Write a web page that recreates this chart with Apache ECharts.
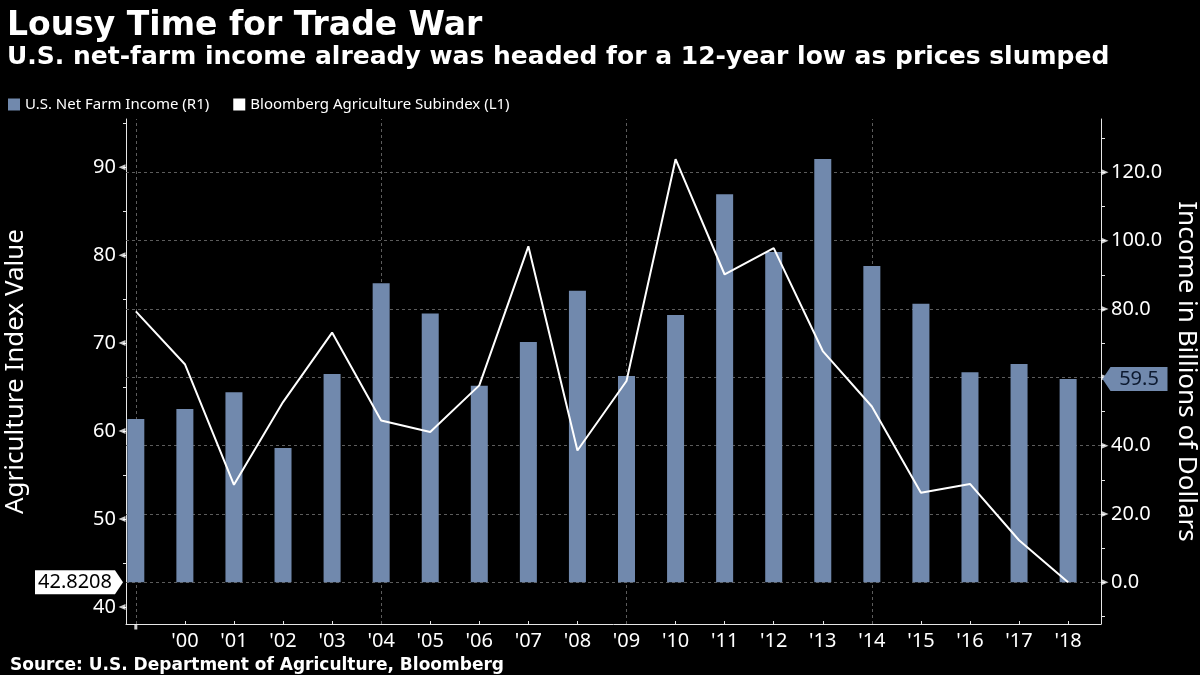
<!DOCTYPE html>
<html>
<head>
<meta charset="utf-8">
<script src="https://cdn.jsdelivr.net/npm/echarts@6/dist/echarts.min.js"></script>
<style>
html,body{margin:0;padding:0;background:#000;}
#chart{width:1200px;height:675px;}
</style>
</head>
<body>
<div id="chart"></div>
<script>
// ---- data ----
const years = [1999,2000,2001,2002,2003,2004,2005,2006,2007,2008,2009,2010,2011,2012,2013,2014,2015,2016,2017,2018];
const farmIncome = [47.8,50.7,55.6,39.3,61.0,87.5,78.7,57.5,70.3,85.3,60.4,78.2,113.6,96.7,123.9,92.6,81.5,61.5,63.9,59.5];
const agIndex = [73.6,67.6,53.9,63.3,71.2,61.2,59.9,65.2,81.0,57.8,65.7,90.9,77.8,80.8,69.1,62.8,53.0,54.0,47.6,42.8208];
const xLabelYears = [2000,2001,2002,2003,2004,2005,2006,2007,2008,2009,2010,2011,2012,2013,2014,2015,2016,2017,2018];
const leftTickLabels = [40,50,60,70,80,90];
const leftTicks = [40,45,50,55,60,65,70,75,80,85,90,95];
const rightTickLabels = [0,20,40,60,80,100,120];
const rightTicks = [-10,0,10,20,30,40,50,60,70,80,90,100,110,120,130];
const vGridYears = [1999,2004,2009,2014];
const lastIncome = 59.5;
const lastIndex = 42.8208;

const X_MIN = 1998.8, X_MAX = 2018.67;
const L_MIN = 38.08, L_MAX = 95.47;
const R_MIN = -12.2, R_MAX = 135.6;

const FONT = 'Noto Sans';
const HEAD = 'DejaVu Sans';
const BAR = '#7189ad';
const GRID = '#5c5c5c';

const barData = years.map((y,i)=>[y, farmIncome[i]]);
const lineData = years.map((y,i)=>[y, agIndex[i]]);

const chart = echarts.init(document.getElementById('chart'), null, {renderer:'canvas'});
chart.setOption({
  backgroundColor:'#000',
  animation:false,
  textStyle:{fontFamily:FONT, color:'#fff'},
  title:[
    {text:'Lousy Time for Trade War', left:2, top:5,
     textStyle:{fontFamily:HEAD, fontWeight:'bold', fontSize:33, color:'#fff'}},
    {text:'U.S. net-farm income already was headed for a 12-year low as prices slumped', left:2, top:40,
     textStyle:{fontFamily:HEAD, fontWeight:'bold', fontSize:25, color:'#fff'}},
    {text:'Source: U.S. Department of Agriculture, Bloomberg', left:5, top:652,
     textStyle:{fontFamily:HEAD, fontWeight:'bold', fontSize:17, color:'#fff'}}
  ],
  legend:{
    left:3, top:92, icon:'rect', itemWidth:12, itemHeight:12, itemGap:24,
    data:['U.S. Net Farm Income (R1)','Bloomberg Agriculture Subindex (L1)'],
    textStyle:{color:'#fff', fontSize:15, fontFamily:FONT}
  },
  grid:{left:126, right:99, top:119, bottom:51, containLabel:false, outerBoundsMode:'none'},
  xAxis:{
    type:'value', min:X_MIN, max:X_MAX,
    axisLine:{show:true, onZero:false, lineStyle:{color:'#e6e6e6', width:1}},
    axisTick:{show:true, inside:true, length:3, customValues:years, lineStyle:{color:'#e6e6e6'}},
    axisLabel:{show:true, customValues:xLabelYears, color:'#fff', fontSize:20, margin:7,
      formatter:v=>"'"+String(v).slice(2)},
    splitLine:{show:false}
  },
  yAxis:[
    {
      type:'value', position:'left', min:L_MIN, max:L_MAX,
      name:'Agriculture Index Value', nameLocation:'middle', nameRotate:90, nameGap:97,
      nameTextStyle:{color:'#fff', fontSize:26, fontFamily:FONT},
      axisLine:{show:true, lineStyle:{color:'#e6e6e6', width:1}},
      axisTick:{show:true, length:3, customValues:leftTicks, lineStyle:{color:'#e6e6e6'}},
      axisLabel:{show:true, customValues:leftTickLabels, color:'#fff', fontSize:20, margin:10},
      splitLine:{show:false}
    },
    {
      type:'value', position:'right', min:R_MIN, max:R_MAX,
      name:'Income in Billions of Dollars', nameLocation:'middle', nameRotate:-90, nameGap:67,
      nameTextStyle:{color:'#fff', fontSize:26, fontFamily:FONT},
      axisLine:{show:true, lineStyle:{color:'#e6e6e6', width:1}},
      axisTick:{show:true, length:4, customValues:rightTicks, lineStyle:{color:'#e6e6e6'}},
      axisLabel:{show:true, customValues:rightTickLabels, color:'#fff', fontSize:20, margin:10,
        formatter:v=>v.toFixed(1)},
      splitLine:{show:false}
    }
  ],
  series:[
    {
      name:'U.S. Net Farm Income (R1)', type:'bar', yAxisIndex:1, data:barData,
      barWidth:17, itemStyle:{color:BAR}, z:2,
      markLine:{
        silent:true, symbol:'none', z:1, animation:false,
        label:{show:false},
        lineStyle:{color:GRID, type:[3,3], width:1},
        data: rightTickLabels.map(v=>({yAxis:v})).concat(vGridYears.map(y=>({xAxis:y})))
      },
      markPoint:{
        silent:true, z:6,
        data:[{coord:[X_MAX, lastIncome], value:lastIncome,
          symbol:'path://M8,0 L65,0 L65,24 L8,24 L0,12 Z', symbolSize:[65,24], symbolOffset:[34,0],
          itemStyle:{color:BAR},
          label:{show:true, position:'inside', offset:[4,0], color:'#0d1a30', fontSize:20, fontFamily:FONT,
            formatter:p=>String(p.value)}}]
      }
    },
    {
      name:'Bloomberg Agriculture Subindex (L1)', type:'line', yAxisIndex:0, data:lineData,
      symbol:'none', lineStyle:{color:'#fff', width:2}, itemStyle:{color:'#fff'}, z:3,
      markPoint:{
        silent:true, z:6,
        data:[{coord:[X_MIN, lastIndex], value:lastIndex,
          symbol:'path://M0,0 L80,0 L88,12 L80,24 L0,24 Z', symbolSize:[88,24], symbolOffset:[-47,0],
          itemStyle:{color:'#fff'},
          label:{show:true, position:'inside', offset:[-4,0], color:'#000', fontSize:20, fontFamily:FONT,
            formatter:p=>String(p.value)}}]
      }
    },
    {
      type:'scatter', yAxisIndex:0, silent:true, clip:false, z:5,
      symbol:'triangle', symbolRotate:90, symbolSize:[6,7], symbolOffset:[-4,0],
      itemStyle:{color:'#fff'},
      data:leftTickLabels.map(v=>[X_MIN, v])
    },
    {
      type:'scatter', yAxisIndex:1, silent:true, clip:false, z:5,
      symbol:'triangle', symbolRotate:-90, symbolSize:[6,7], symbolOffset:[4,0],
      itemStyle:{color:'#fff'},
      data:rightTickLabels.map(v=>[X_MAX, v])
    },
    {
      type:'scatter', yAxisIndex:0, silent:true, clip:false, z:5,
      symbol:'rect', symbolSize:[3,5], symbolOffset:[0,3],
      itemStyle:{color:'#fff'},
      data:[[years[0], L_MIN]]
    }
  ]
});
</script>
</body>
</html>
